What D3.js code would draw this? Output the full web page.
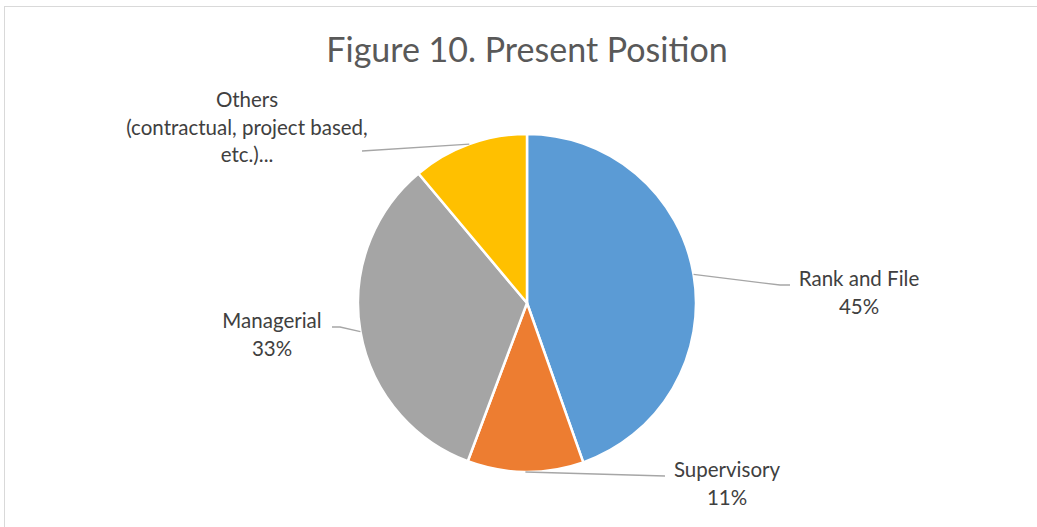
<!DOCTYPE html>
<html><head><meta charset="utf-8">
<script src="https://cdn.jsdelivr.net/npm/d3@7"></script>
<style>
html,body{margin:0;padding:0;background:#fff;}
svg{display:block;}
text{font-family:Lato,"Open Sans",sans-serif;}
</style></head>
<body>
<svg id="chart" width="1037" height="527"></svg>
<script>
// ---- data ----
const categories = ["Rank and File", "Supervisory", "Managerial", "Others\n(contractual, project based,\netc.)..."];
const values = [44.6, 11.1, 33.2, 11.1];
const colors = ["#5B9BD5", "#ED7D31", "#A5A5A5", "#FFC000"];
const title = "Figure 10. Present Position";

// ---- layout (label anchors relative to pie centre, and leader elbows) ----
const labelLayout = [
  {dx: 332, dy: -17, anchor: "middle", elbow: [253, -18], end: [263, -18]},
  {dx: 200, dy: 174, anchor: "middle", elbow: [138, 173], end: [138, 173]},
  {dx: -255, dy: 25, anchor: "middle", elbow: [-187, 24], end: [-195, 24]},
  {dx: -280, dy: -196, anchor: "middle", elbow: [-165, -152], end: [-165, -152]}
];

const W = 1037, H = 527;
const cx = 527, cy = 303, R = 169;
const svg = d3.select("#chart");

svg.append("rect").attr("x", 4.5).attr("y", 6.5).attr("width", W + 10).attr("height", H + 10)
  .attr("fill", "#fff").attr("stroke", "#D9D9D9").attr("stroke-width", 1);

svg.append("text").attr("x", cx).attr("y", 62).attr("text-anchor", "middle")
  .attr("fill", "#595959").style("font-size", "34px").text(title);

const data = categories.map((c, i) => ({name: c, value: values[i], color: colors[i]}));
const total = d3.sum(values);
const pie = d3.pie().value(d => d.value).sort(null);
const arcs = pie(data);
const arc = d3.arc().innerRadius(0).outerRadius(R);

const g = svg.append("g").attr("transform", `translate(${cx},${cy})`);
g.selectAll("path.slice").data(arcs).join("path").attr("class", "slice")
  .attr("d", arc).attr("fill", d => d.data.color)
  .attr("stroke", "#fff").attr("stroke-width", 2.5).attr("stroke-linejoin", "round");

// leader lines
arcs.forEach((a, i) => {
  const L = labelLayout[i];
  const mid = (a.startAngle + a.endAngle) / 2;
  const p0 = [R * Math.sin(mid), -R * Math.cos(mid)];
  const pts = [p0, L.elbow, L.end];
  g.append("path").attr("d", d3.line()(pts)).attr("fill", "none")
    .attr("stroke", "#A6A6A6").attr("stroke-width", 1.3);
});

// labels
const fmt = d3.format(".0%");
arcs.forEach((a, i) => {
  const L = labelLayout[i];
  const lines = a.data.name.split("\n");
  if (i !== 3) lines.push(fmt(a.data.value / total));
  const t = g.append("text").attr("x", L.dx).attr("y", L.dy).attr("text-anchor", L.anchor)
    .attr("fill", "#404040").style("font-size", "20.5px");
  lines.forEach((ln, k) => {
    t.append("tspan").attr("x", L.dx).attr("dy", k === 0 ? 0 : 27.5).text(ln);
  });
});
</script>
</body></html>
